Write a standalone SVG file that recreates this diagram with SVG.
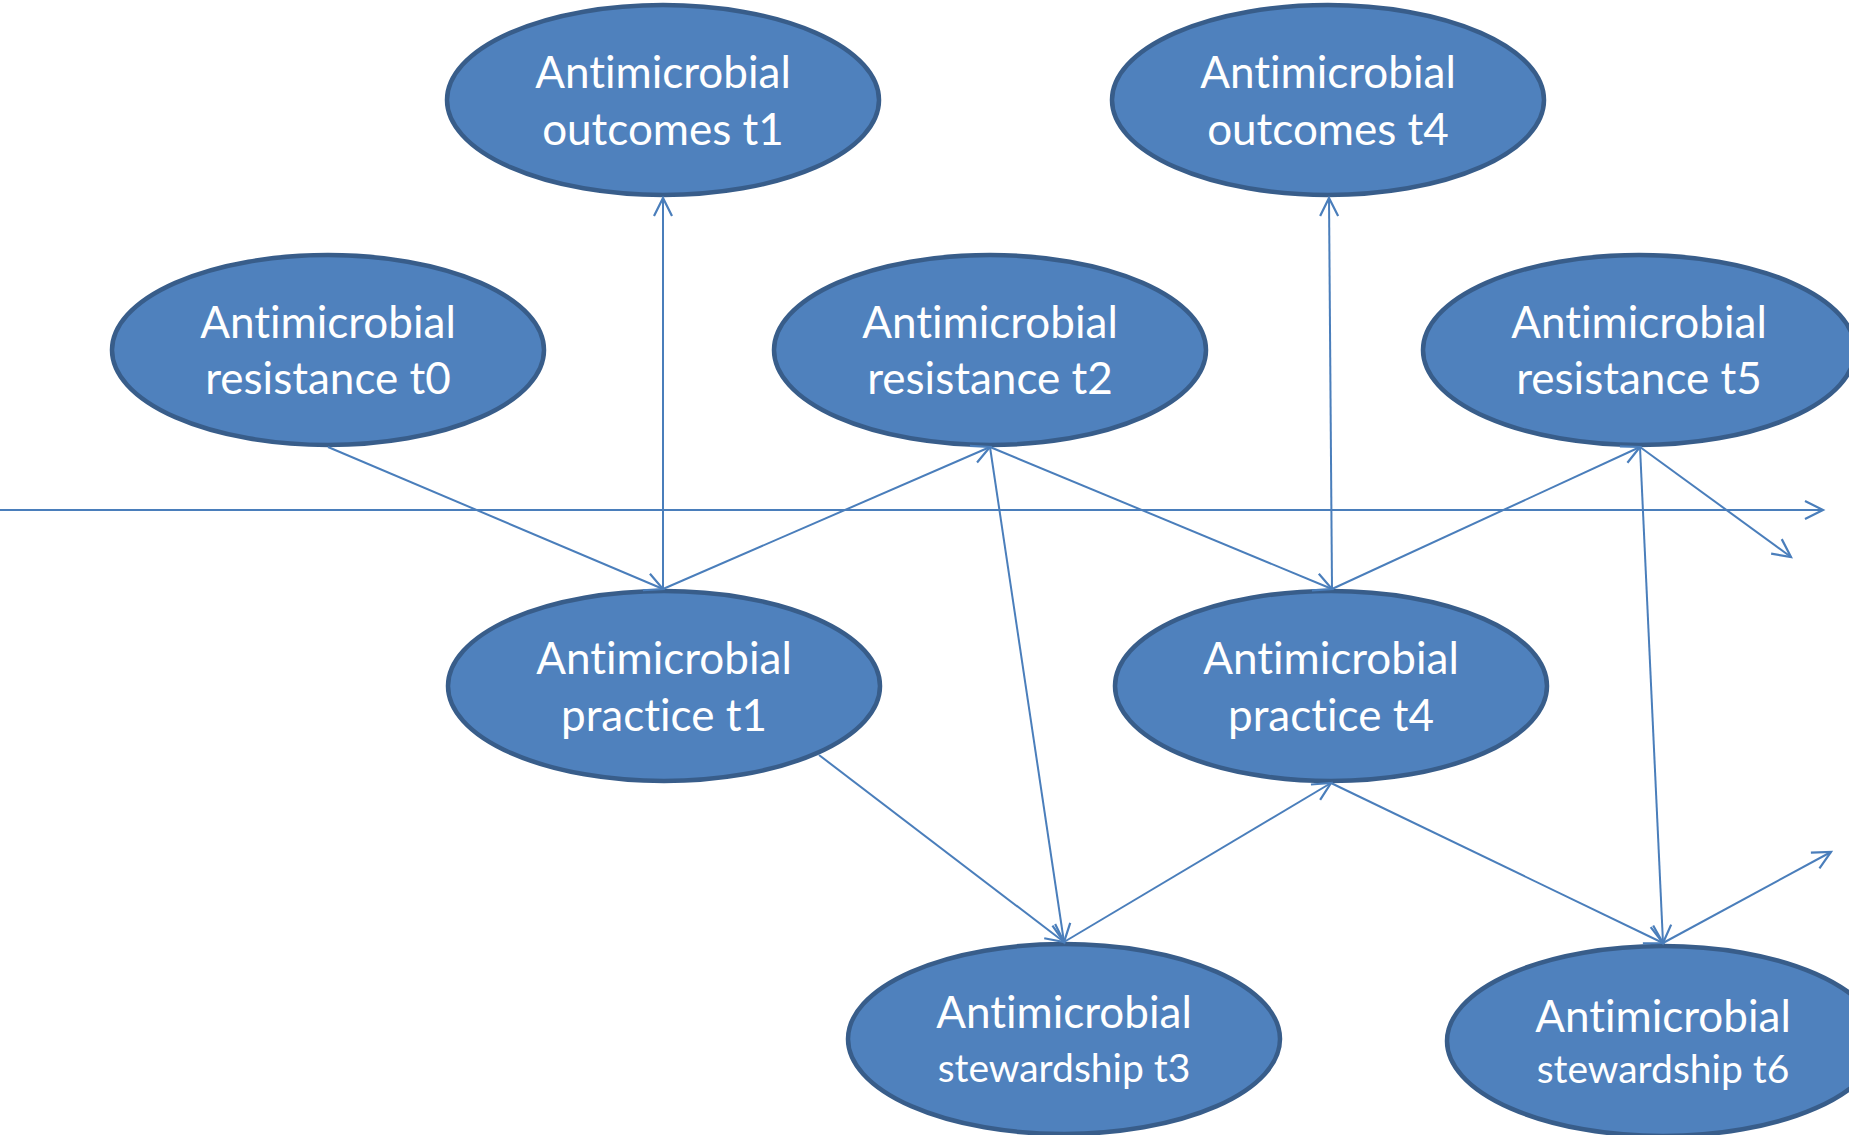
<svg xmlns="http://www.w3.org/2000/svg" width="1849" height="1135" viewBox="0 0 1849 1135">
<style>
.node ellipse{fill:#4f81bd;stroke:#385d8a;stroke-width:4.5}
.node text{fill:#ffffff;font-family:Lato,"Open Sans","Liberation Sans",sans-serif;font-size:44px;text-anchor:middle;font-variant-ligatures:none;font-feature-settings:"liga" 0}
.node text.small{font-size:39px}
.conn line{stroke:#4a7ebb;stroke-width:2;fill:none;marker-end:url(#arr)}
</style>
<defs>
<marker id="arr" markerUnits="userSpaceOnUse" markerWidth="30" markerHeight="30" viewBox="-24 -15 30 30" refX="0" refY="0" orient="auto">
<path d="M-18,-9 L0,0 L-18,9" fill="none" stroke="#4a7ebb" stroke-width="2.2"/>
</marker>
</defs>
<rect width="1849" height="1135" fill="#ffffff"/>
<g id="outcomes-t1" class="node"><ellipse cx="663" cy="100" rx="216" ry="95"/><text x="663" y="88">Antimicrobial</text><text x="663" y="145">outcomes t1</text></g>
<g id="outcomes-t4" class="node"><ellipse cx="1328" cy="100" rx="216" ry="95"/><text x="1328" y="88">Antimicrobial</text><text x="1328" y="145">outcomes t4</text></g>
<g id="resistance-t0" class="node"><ellipse cx="328" cy="350" rx="216" ry="95"/><text x="328" y="338">Antimicrobial</text><text x="328" y="394">resistance t0</text></g>
<g id="resistance-t2" class="node"><ellipse cx="990" cy="350" rx="216" ry="95"/><text x="990" y="338">Antimicrobial</text><text x="990" y="394">resistance t2</text></g>
<g id="resistance-t5" class="node"><ellipse cx="1639" cy="350" rx="216" ry="95"/><text x="1639" y="338">Antimicrobial</text><text x="1639" y="394">resistance t5</text></g>
<g id="practice-t1" class="node"><ellipse cx="664" cy="686" rx="216" ry="95"/><text x="664" y="674">Antimicrobial</text><text x="664" y="731">practice t1</text></g>
<g id="practice-t4" class="node"><ellipse cx="1331" cy="686" rx="216" ry="95"/><text x="1331" y="674">Antimicrobial</text><text x="1331" y="731">practice t4</text></g>
<g id="stewardship-t3" class="node"><ellipse cx="1064" cy="1039" rx="216" ry="95"/><text x="1064" y="1028">Antimicrobial</text><text class="small" x="1064" y="1082">stewardship t3</text></g>
<g id="stewardship-t6" class="node"><ellipse cx="1663" cy="1041" rx="216" ry="95"/><text x="1663" y="1032">Antimicrobial</text><text class="small" x="1663" y="1083">stewardship t6</text></g>
<g id="connectors" class="conn">
<line x1="0" y1="510" x2="1823" y2="510"/>
<line x1="328" y1="447" x2="663" y2="589"/>
<line x1="663" y1="589" x2="663" y2="198"/>
<line x1="663" y1="589" x2="990" y2="447"/>
<line x1="990" y1="447" x2="1332" y2="589"/>
<line x1="1332" y1="589" x2="1329" y2="198"/>
<line x1="1332" y1="589" x2="1640" y2="447"/>
<line x1="1640" y1="447" x2="1791" y2="557"/>
<line x1="1640" y1="447" x2="1663" y2="943"/>
<line x1="990" y1="447" x2="1064" y2="942"/>
<line x1="819" y1="755" x2="1064" y2="942"/>
<line x1="1064" y1="942" x2="1331" y2="783"/>
<line x1="1331" y1="783" x2="1663" y2="943"/>
<line x1="1663" y1="943" x2="1831" y2="852"/>
</g>
</svg>
